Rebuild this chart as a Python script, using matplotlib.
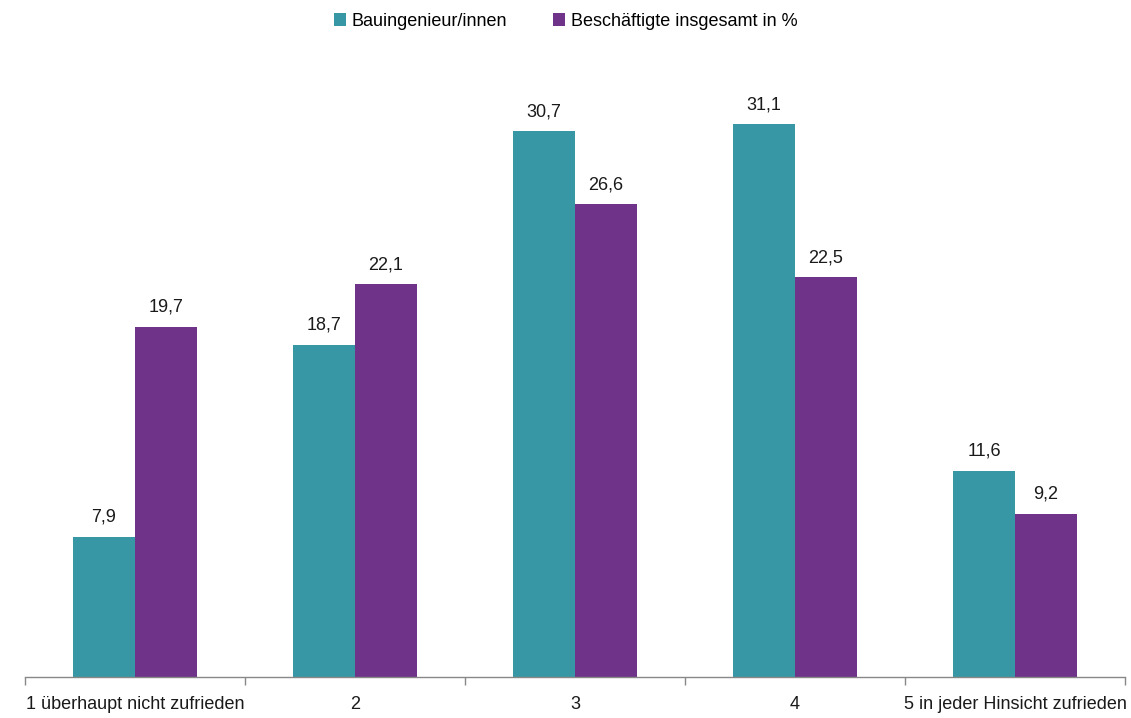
import numpy as np
import matplotlib
matplotlib.use("Agg")
import matplotlib.pyplot as plt
from matplotlib import font_manager

names = {f.name for f in font_manager.fontManager.ttflist}
family = "Liberation Sans Narrow" if "Liberation Sans Narrow" in names else "Liberation Sans"
plt.rcParams["font.family"] = [family, "DejaVu Sans"]

categories = ["1 überhaupt nicht zufrieden", "2", "3", "4", "5 in jeder Hinsicht zufrieden"]
bauing = [7.9, 18.7, 30.7, 31.1, 11.6]
gesamt = [19.7, 22.1, 26.6, 22.5, 9.2]
series_names = ["Bauingenieur/innen", "Beschäftigte insgesamt in %"]

TEAL = "#3797a5"
PURPLE = "#6f3489"

fig = plt.figure(figsize=(11.31, 7.18), dpi=100)
ax = fig.add_axes([25 / 1131, 41 / 718, 1100 / 1131, 622 / 718])

x = np.arange(len(categories))
w = 0.282
b1 = ax.bar(x - w / 2, bauing, w, color=TEAL, label=series_names[0])
b2 = ax.bar(x + w / 2, gesamt, w, color=PURPLE, label=series_names[1])

for bars, vals in ((b1, bauing), (b2, gesamt)):
    for r, v in zip(bars, vals):
        ax.annotate(f"{v:.1f}".replace(".", ","), (r.get_x() + r.get_width() / 2, v),
                    xytext=(0, 8), textcoords="offset points",
                    ha="center", va="bottom", fontsize=13, color="#1a1a1a")

ax.set_xlim(-0.5, len(categories) - 0.5)
ax.set_ylim(0, 35)
ax.set_xticks(x)
ax.set_xticklabels(categories, fontsize=13, color="#1a1a1a")
ax.set_xticks(np.arange(-0.5, len(categories)), minor=True)
ax.tick_params(axis="x", which="major", length=0, pad=14)
ax.tick_params(axis="x", which="minor", length=6, color="#888888", width=1)
ax.set_yticks([])
for s in ("top", "right", "left"):
    ax.spines[s].set_visible(False)
ax.spines["bottom"].set_color("#888888")
ax.spines["bottom"].set_linewidth(1)

fig.legend(handles=[b1, b2], loc="upper center", bbox_to_anchor=(0.5, 1.005),
           ncol=2, frameon=False, fontsize=13, handlelength=0.7, handleheight=0.7,
           handletextpad=0.3, columnspacing=2.5)

fig.savefig("out.png", dpi=100, facecolor="white")
